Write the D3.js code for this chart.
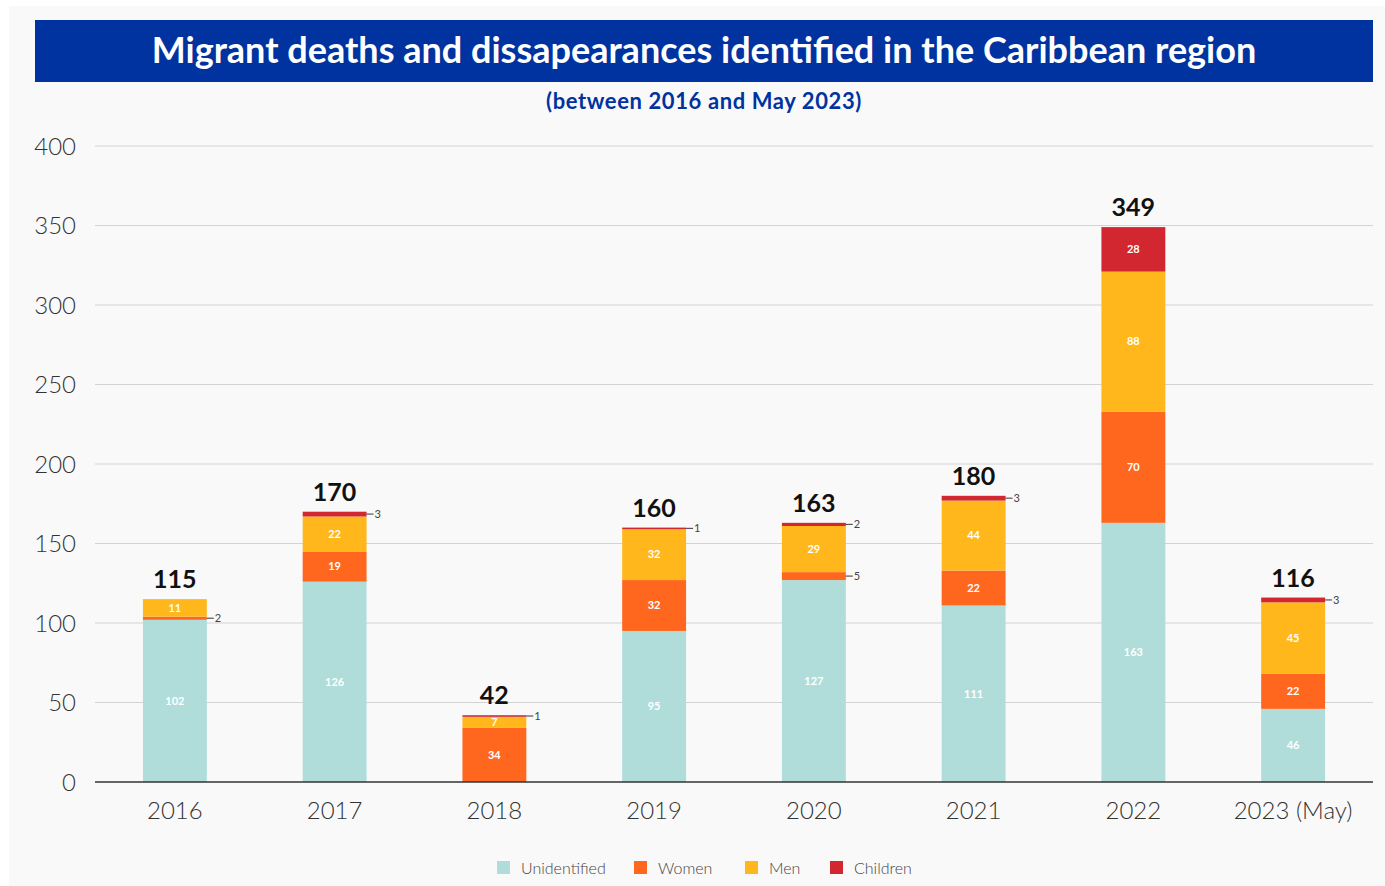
<!DOCTYPE html>
<html><head><meta charset="utf-8">
<script src="https://cdn.jsdelivr.net/npm/d3@7"></script>
<style>
html,body{margin:0;padding:0;background:#fff;}
svg{display:block;font-family:Lato,"Open Sans",sans-serif;}
</style></head><body>
<svg id="c" width="1385" height="886"></svg>
<script>
const years = ["2016","2017","2018","2019","2020","2021","2022","2023 (May)"];
const seriesNames = ["Unidentified","Women","Men","Children"];
const unidentified = [102,126,0,95,127,111,163,46];
const women = [2,19,34,32,5,22,70,22];
const men = [11,22,7,32,29,44,88,45];
const children = [0,3,1,1,2,3,28,3];
const totals = [115,170,42,160,163,180,349,116];
const yTicks = [0,50,100,150,200,250,300,350,400];
const colors = ["#b0ddda","#ff671f","#ffb71b","#d22630"];

const svg = d3.select("#c");
svg.append("rect").attr("x",9).attr("y",6).attr("width",1376).attr("height",880).attr("fill","#f9f9f9");
svg.append("rect").attr("x",35).attr("y",20).attr("width",1338).attr("height",62).attr("fill","#0033a0");
svg.append("text").attr("x",704).attr("y",63).attr("text-anchor","middle").attr("fill","#fff")
  .attr("font-size",36).attr("font-weight",700).text("Migrant deaths and dissapearances identified in the Caribbean region");
svg.append("text").attr("x",704).attr("y",109).attr("text-anchor","middle").attr("fill","#0033a0")
  .attr("font-size",22).attr("letter-spacing",0.6).attr("font-weight",700).text("(between 2016 and May 2023)");

const x = d3.scaleBand().domain(years).range([95,1373]).paddingInner(0.6).paddingOuter(0.3);
const y = d3.scaleLinear().domain([0,400]).range([782,146]);

// grid
const g = svg.append("g");
g.selectAll("line.grid").data(yTicks.filter(d=>d>0)).join("line")
  .attr("x1",95).attr("x2",1373).attr("y1",d=>y(d)).attr("y2",d=>y(d))
  .attr("stroke","#d3d3d3").attr("stroke-width",1.2);
// y labels
const yAxis = d3.axisLeft(y).tickValues(yTicks).tickSize(0).tickPadding(0);
const ya = svg.append("g").attr("transform","translate(76,0)").call(yAxis);
ya.select(".domain").remove();
ya.selectAll("text").attr("font-size",24).attr("font-weight",300).attr("fill","#333").attr("font-family","Lato,sans-serif").attr("dy","0.35em");

const table = years.map((yr,i)=>({year:yr, Unidentified:unidentified[i], Women:women[i], Men:men[i], Children:children[i], total:totals[i]}));
const stack = d3.stack().keys(seriesNames)(table);

stack.forEach((s,si)=>{
  svg.append("g").selectAll("rect").data(s).join("rect")
    .attr("x",d=>x(d.data.year)).attr("width",x.bandwidth())
    .attr("y",d=>y(d[1])).attr("height",d=>y(d[0])-y(d[1]))
    .attr("fill",colors[si]);
});

// axis line
const xAxis = d3.axisBottom(x).tickSize(0).tickPadding(20);
const xa = svg.append("g").attr("transform","translate(0,782)").call(xAxis);
xa.select(".domain").attr("d","M95,0H1373").attr("stroke","#333").attr("stroke-width",1.5);
xa.selectAll("text").attr("font-size",24).attr("font-weight",300).attr("fill","#333").attr("font-family","Lato,sans-serif");

// labels
stack.forEach((s,si)=>{
  s.forEach(d=>{
    const v = d[1]-d[0];
    if(v<=0) return;
    const cx = x(d.data.year)+x.bandwidth()/2;
    const cy = (y(d[0])+y(d[1]))/2;
    if(v>=7){
      svg.append("text").attr("x",cx).attr("y",cy).attr("dy","0.35em").attr("text-anchor","middle")
        .attr("fill","#fff").attr("font-size",11).attr("font-weight",700).text(v);
    } else {
      const xr = x(d.data.year)+x.bandwidth();
      svg.append("line").attr("x1",xr).attr("x2",xr+7).attr("y1",cy).attr("y2",cy).attr("stroke","#555").attr("stroke-width",1.2);
      svg.append("text").attr("x",xr+8).attr("y",cy).attr("dy","0.35em").attr("fill","#444")
        .attr("font-size",11).attr("font-weight",400).text(v);
    }
  });
});
// totals
svg.append("g").selectAll("text").data(table).join("text")
  .attr("x",d=>x(d.year)+x.bandwidth()/2).attr("y",d=>y(d.total)-11)
  .attr("text-anchor","middle").attr("font-size",25).attr("font-weight",700).attr("fill","#111").text(d=>d.total);

// legend
const legX = [497,634,745,830];
const lg = svg.append("g");
seriesNames.forEach((n,i)=>{
  lg.append("rect").attr("x",legX[i]).attr("y",861).attr("width",13).attr("height",13).attr("fill",colors[i]);
  lg.append("text").attr("x",legX[i]+24).attr("y",868).attr("dy","0.35em").attr("font-size",16).attr("font-weight",300).attr("fill","#444").text(n);
});
</script></body></html>
